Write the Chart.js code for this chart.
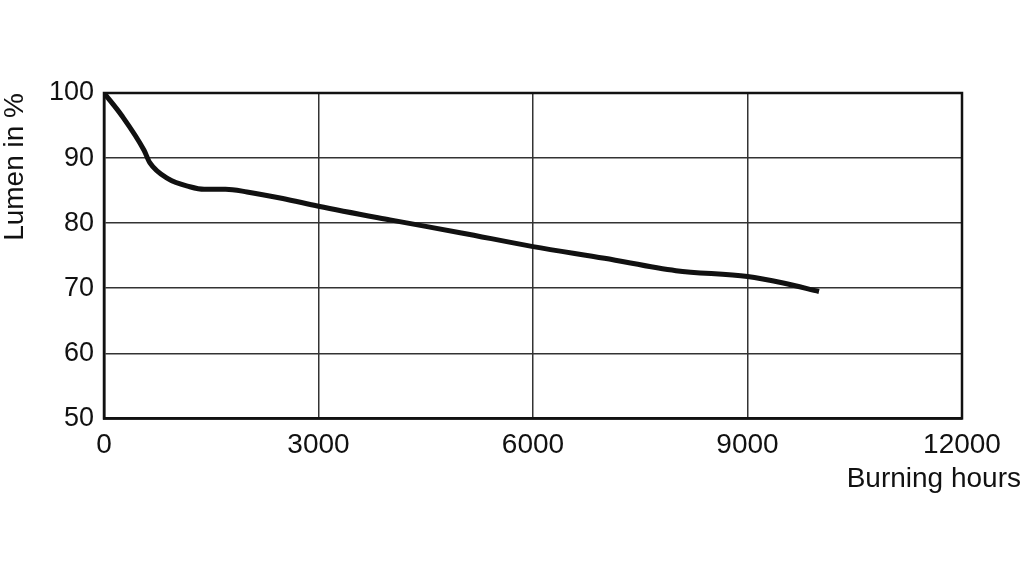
<!DOCTYPE html>
<html>
<head>
<meta charset="utf-8">
<script src="https://cdn.jsdelivr.net/npm/chart.js@4/dist/chart.umd.min.js"></script>
<style>
  html, body { margin: 0; padding: 0; background: #ffffff; }
  #wrap { width: 1024px; height: 578px; position: relative; }
</style>
</head>
<body>
<div id="wrap"><canvas id="c" width="1024" height="578"></canvas></div>
<script>
// Data
const hours = [0, 250, 560, 640, 900, 1200, 1400, 1700, 2000, 2500, 3000, 4000, 5000, 6000, 7000, 8000, 9000, 9500, 10000];
const lumen = [100, 96.5, 91.2, 89.3, 86.8, 85.6, 85.2, 85.2, 84.8, 83.8, 82.6, 80.5, 78.5, 76.4, 74.6, 72.7, 71.8, 70.8, 69.5];
const xTicks = [0, 3000, 6000, 9000, 12000];
const yTicks = [50, 60, 70, 80, 90, 100];
const xTitle = 'Burning hours';
const yTitle = 'Lumen in %';

const points = hours.map((h, i) => ({ x: h, y: lumen[i] }));

const frame = {
  id: 'frame',
  afterDraw(chart) {
    const { ctx, chartArea: a } = chart;
    ctx.save();
    ctx.strokeStyle = '#111';
    ctx.lineWidth = 2.5;
    ctx.strokeRect(a.left, a.top, a.right - a.left, a.bottom - a.top);
    ctx.restore();
  }
};

const FONT = "'Liberation Sans', Arial, sans-serif";

new Chart(document.getElementById('c'), {
  type: 'line',
  data: {
    datasets: [{
      data: points,
      borderColor: '#111',
      borderWidth: 5,
      pointRadius: 0,
      fill: false,
      cubicInterpolationMode: 'monotone'
    }]
  },
  options: {
    responsive: false,
    animation: false,
    devicePixelRatio: 1,
    layout: { padding: { top: 93, right: 3, bottom: 82, left: 0 } },
    plugins: {
      legend: { display: false },
      tooltip: { enabled: false },
      title: {
        display: true,
        text: xTitle,
        position: 'bottom',
        align: 'end',
        color: '#111',
        font: { family: FONT, size: 28, weight: 'normal' },
        padding: 0
      }
    },
    scales: {
      x: {
        type: 'linear',
        min: xTicks[0],
        max: xTicks[xTicks.length - 1],
        afterBuildTicks: (s) => { s.ticks = xTicks.map(v => ({ value: v })); },
        afterFit: (s) => { s.height = 44; },
        grid: { color: '#333', lineWidth: 1.5, drawTicks: false },
        border: { display: true, color: '#111', width: 2.5 },
        ticks: {
          color: '#111',
          padding: 10,
          maxRotation: 0,
          font: { family: FONT, size: 28 },
          callback: (v) => String(v)
        }
      },
      y: {
        type: 'linear',
        min: yTicks[0],
        max: yTicks[yTicks.length - 1],
        afterBuildTicks: (s) => { s.ticks = yTicks.map(v => ({ value: v })); },
        afterFit: (s) => { s.width = 104; },
        grid: { color: '#333', lineWidth: 1.5, drawTicks: false },
        border: { display: true, color: '#111', width: 2.5 },
        title: {
          display: true,
          text: yTitle,
          align: 'end',
          color: '#111',
          font: { family: FONT, size: 28 },
          padding: { top: -2, bottom: 0 }
        },
        ticks: {
          color: '#111',
          padding: 10,
          font: { family: FONT, size: 27 },
          callback: (v) => String(v)
        }
      },
      yRight: {
        type: 'linear',
        position: 'right',
        display: true,
        min: 0, max: 1,
        afterFit: (s) => { s.width = 59; },
        grid: { display: false, drawTicks: false },
        border: { display: false },
        ticks: { display: false }
      }
    }
  },
  plugins: [frame]
});
</script>
</body>
</html>
